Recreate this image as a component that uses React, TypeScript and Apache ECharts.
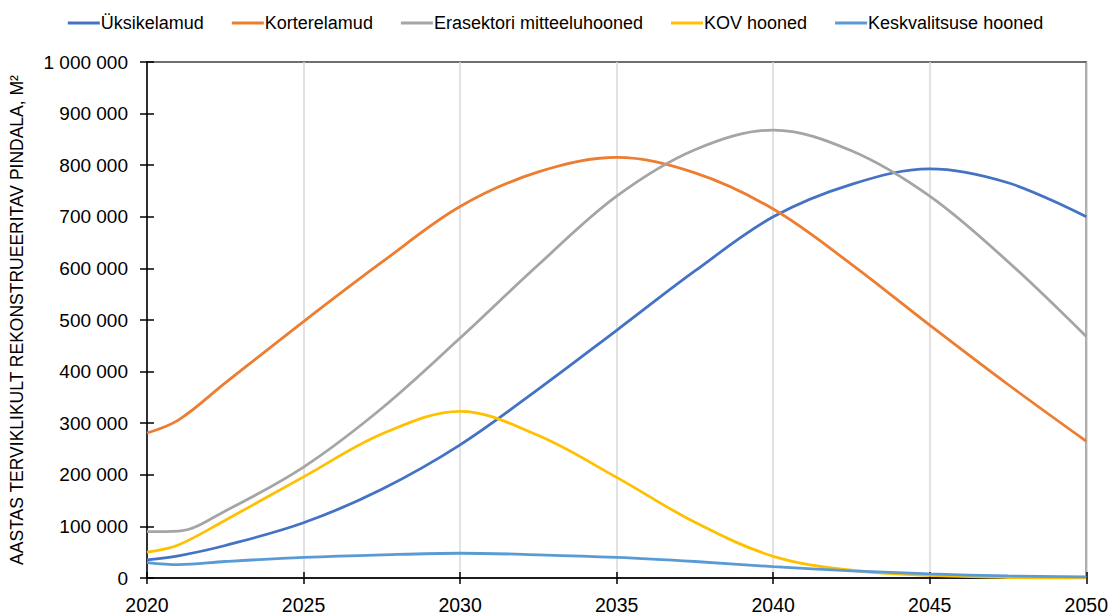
import React, { useEffect, useRef } from "react";
import * as echarts from "echarts";

const seriesNames = [
  "Üksikelamud",
  "Korterelamud",
  "Erasektori mitteeluhooned",
  "KOV hooned",
  "Keskvalitsuse hooned",
];
const colors = ["#4472C4", "#ED7D31", "#A5A5A5", "#FFC000", "#5B9BD5"];

const years = [2020, 2021, 2022.5, 2025, 2027.5, 2030, 2032.5, 2035, 2037.5, 2040, 2042.5, 2045, 2047.5, 2050];
const yksikelamud = [35000, 43000, 63000, 107000, 172000, 258000, 366000, 480000, 595000, 700000, 763000, 793000, 766000, 700000];
const korterelamud = [281000, 306000, 378000, 497000, 612000, 720000, 787000, 815000, 785000, 715000, 608000, 490000, 375000, 265000];
const erasektor = [90000, 91000, 130000, 215000, 329000, 465000, 607000, 740000, 830000, 868000, 828000, 740000, 613000, 468000];
const kovHooned = [50000, 64000, 112000, 196000, 279000, 323000, 276000, 195000, 108000, 42000, 15000, 5000, 1000, 0];
const keskvalitsus = [30000, 26000, 32000, 40000, 45000, 48000, 45000, 40000, 32000, 22000, 14000, 8000, 4000, 2000];

const allValues = [yksikelamud, korterelamud, erasektor, kovHooned, keskvalitsus];

const xTicks = { min: 2020, max: 2050, interval: 5 };
const yTicks = { min: 0, max: 1000000, interval: 100000 };
const yAxisTitle = "AASTAS TERVIKLIKULT REKONSTRUEERITAV PINDALA, M²";

const FONT = "'Liberation Sans', Arial, sans-serif";

const fmt = (v: number) => String(v).replace(/\B(?=(\d{3})+(?!\d))/g, " ");

export default function App() {
  const ref = useRef<HTMLDivElement>(null);
  useEffect(() => {
    if (!ref.current) return;
    const chart = echarts.init(ref.current, undefined, { renderer: "svg" });
    chart.setOption({
      animation: false,
      textStyle: { fontFamily: FONT, color: "#000" },
      grid: {
        left: 145,
        right: 24,
        top: 62,
        bottom: 38,
        show: true,
        borderColor: "#404040",
        borderWidth: 1.5,
        backgroundColor: "transparent",
      },
      legend: {
        top: 9,
        left: "center",
        icon: "rect",
        itemWidth: 32,
        itemHeight: 3,
        itemGap: 28,
        textStyle: { fontSize: 18, fontFamily: FONT, color: "#000", padding: [0, 0, 0, -4] },
        data: seriesNames,
      },
      xAxis: [
        {
          type: "value",
          min: xTicks.min,
          max: xTicks.max,
          interval: xTicks.interval,
          axisLine: { show: true, onZero: false, lineStyle: { color: "#000", width: 1.5 } },
          axisTick: { show: true, length: 6, lineStyle: { color: "#000", width: 1.5 } },
          axisLabel: { fontSize: 19.5, color: "#000", margin: 17, fontFamily: FONT, formatter: (v: number) => String(v) },
          splitLine: { show: true, lineStyle: { color: "#D9D9D9", width: 1.5 } },
        },
        {
          type: "value",
          min: xTicks.min,
          max: xTicks.max,
          interval: xTicks.interval,
          position: "bottom",
          axisLine: { show: false },
          axisTick: { show: true, inside: true, length: 6, lineStyle: { color: "#000", width: 1.5 } },
          axisLabel: { show: false },
          splitLine: { show: false },
        },
      ],
      yAxis: [
        {
          type: "value",
          min: yTicks.min,
          max: yTicks.max,
          interval: yTicks.interval,
          name: yAxisTitle,
          nameLocation: "middle",
          nameGap: 121,
          nameTextStyle: { fontSize: 17.5, color: "#000", fontFamily: FONT },
          axisLine: { show: true, onZero: false, lineStyle: { color: "#000", width: 1.5 } },
          axisTick: { show: true, length: 7, lineStyle: { color: "#000", width: 1.5 } },
          axisLabel: { fontSize: 19, color: "#000", margin: 19, fontFamily: FONT, formatter: fmt },
          splitLine: { show: false },
        },
        {
          type: "value",
          min: yTicks.min,
          max: yTicks.max,
          interval: yTicks.interval,
          position: "left",
          axisLine: { show: false },
          axisTick: { show: true, inside: true, length: 7, lineStyle: { color: "#000", width: 1.5 } },
          axisLabel: { show: false },
          splitLine: { show: false },
        },
      ],
      series: seriesNames.map((name, i) => ({
        name,
        type: "line",
        smooth: 0.35,
        symbol: "none",
        lineStyle: { color: colors[i], width: 2.8 },
        itemStyle: { color: colors[i] },
        data: years.map((y, j) => [y, allValues[i][j]]),
        z: 3 + i,
      })),
    });
    return () => chart.dispose();
  }, []);
  return <div ref={ref} style={{ width: 1111, height: 616, position: "absolute", left: 0, top: 0 }} />;
}
